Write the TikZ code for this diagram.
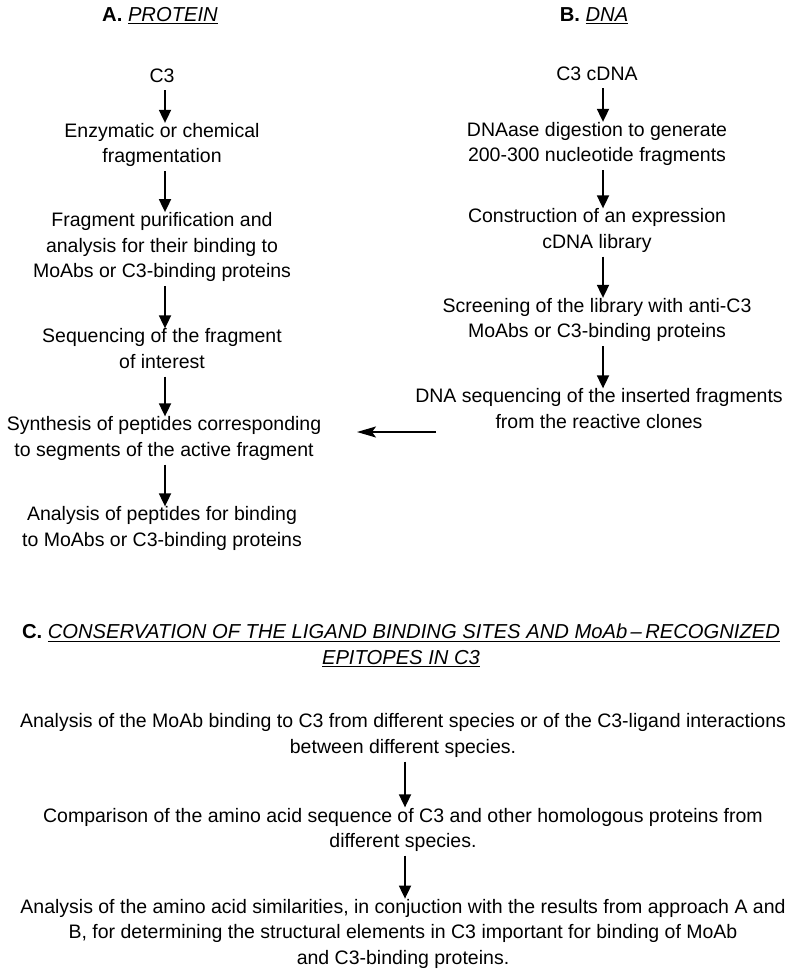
\documentclass[tikz,border=0pt]{standalone}
\usepackage{fontspec}
\setmainfont{Liberation Sans}
\usetikzlibrary{arrows.meta}
\newcommand\undl[1]{\setbox0\hbox{#1}\rlap{\rule[-3.2pt]{\wd0}{1.2pt}}\box0}
\begin{document}
\begin{tikzpicture}[x=1pt,y=-1pt,
  txt/.style={align=center, inner sep=0pt, outer sep=0.5pt,
    font=\fontsize{19.5}{25.5}\selectfont,
    execute at begin node=\strut, execute at end node=\strut},
  hdr/.style={txt, font=\fontsize{20.2}{25.5}\selectfont},
  varr/.style={line width=1.8pt, -{Triangle[width=12pt,length=13pt]}},
  harr/.style={line width=1.6pt, -{Stealth[width=11pt,length=19pt,inset=4pt]}}
]
\useasboundingbox (0,0) rectangle (789,974);
\fill[white] (0,0) rectangle (789,974);

% headers
\node[hdr] (ha) at (160,16) {\textbf{A.} \undl{\textit{PROTEIN}}};
\node[hdr] (hb) at (594,16) {\textbf{B.} \undl{\textit{DNA}}};

% column A
\node[txt] (a0) at (162,77) {C3};
\node[txt] (a1) at (162,147) {Enzymatic or chemical\\fragmentation};
\node[txt] (a2) at (162,249) {Fragment purification and\\analysis for their binding to\\MoAbs or C3-binding proteins};
\node[txt] (a3) at (162,352.5) {Sequencing of the fragment\\of interest};
\node[txt] (a4) at (164,440.5) {Synthesis of peptides corresponding\\to segments of the active fragment};
\node[txt] (a5) at (162,530.5) {Analysis of peptides for binding\\to MoAbs or C3-binding proteins};

\foreach \p/\q in {a0/a1,a1/a2,a2/a3,a3/a4,a4/a5}
  \draw[varr] ([xshift=3pt]a0.south |- \p.south) -- ([xshift=3pt]a0.south |- \q.north);

% column B
\node[txt] (b0) at (597,75) {C3 cDNA};
\node[txt] (b1) at (597,146) {DNAase digestion to generate\\200-300 nucleotide fragments};
\node[txt] (b2) at (597,232.5) {Construction of an expression\\cDNA library};
\node[txt] (b3) at (597,322) {Screening of the library with anti-C3\\MoAbs or C3-binding proteins};
\node[txt] (b4) at (599,412.5) {DNA sequencing of the inserted fragments\\from the reactive clones};

\foreach \p/\q in {b0/b1,b1/b2,b2/b3,b3/b4}
  \draw[varr] ([xshift=6pt]b0.south |- \p.south) -- ([xshift=6pt]b0.south |- \q.north);

\coordinate (hs) at (436,432);
\coordinate (he) at (357,432);
\draw[harr] (hs) -- (he);

% section C
\node[hdr] (hc) at (401,648) {\textbf{C.} \undl{\textit{CONSERVATION OF THE LIGAND BINDING SITES AND MoAb\,--\,RECOGNIZED}}\\\undl{\textit{EPITOPES IN C3}}};
\node[txt] (c1) at (403,737.5) {Analysis of the MoAb binding to C3 from different species or of the C3-ligand interactions\\between different species.};
\node[txt] (c2) at (403,831.5) {Comparison of the amino acid sequence of C3 and other homologous proteins from\\different species.};
\node[txt] (c3) at (403,935.5) {Analysis of the amino acid similarities, in conjuction with the results from approach A and\\B, for determining the structural elements in C3 important for binding of MoAb\\and C3-binding proteins.};

\draw[varr] ([xshift=2pt]c1.south) -- ([xshift=2pt]c1.south |- c2.north);
\draw[varr] ([xshift=2pt]c1.south |- c2.south) -- ([xshift=2pt]c1.south |- c3.north);
\end{tikzpicture}
\end{document}
